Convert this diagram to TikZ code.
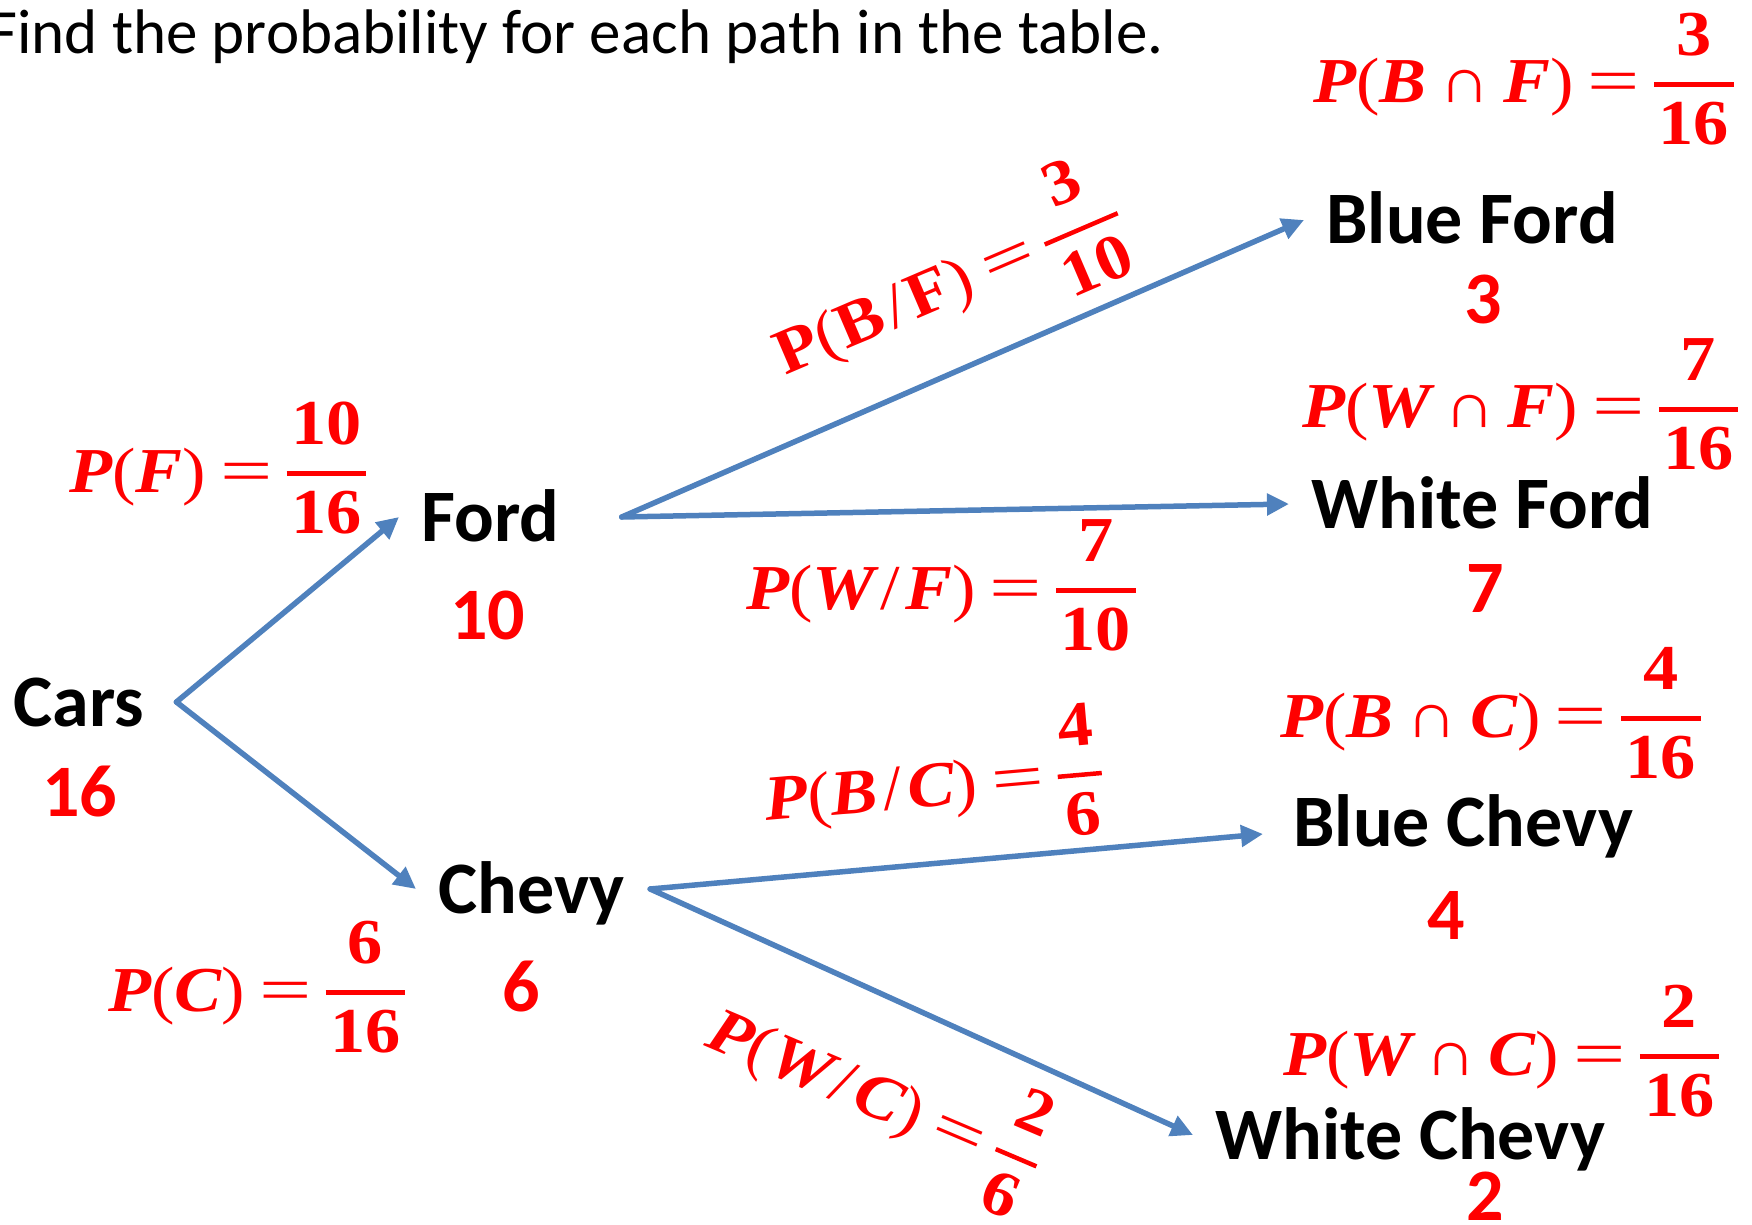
\documentclass[tikz,border=0pt]{standalone}
\usepackage{fontspec}
\setmainfont{Carlito}
\newfontfamily\serif{Liberation Serif}[FakeStretch=1.1]
\newfontfamily\eqfont{Liberation Serif}[FakeStretch=1.45]
\usetikzlibrary{arrows.meta}
\definecolor{arrowblue}{RGB}{79,129,189}
\newcommand\vb[1]{{\serif\bfseries\itshape #1}}
\newcommand\vu[1]{{\serif\bfseries #1}}
\newcommand\op[1]{{\serif #1}}
\newcommand\fr[2]{{\serif\bfseries
  \setbox0=\hbox{#1}\setbox2=\hbox{#2}%
  \dimen0=\wd0 \ifdim\wd2>\dimen0 \dimen0=\wd2 \fi
  \advance\dimen0 by 0.14em
  \dimen2=0.45em \advance\dimen2 by -0.035em
  \dimen4=0.28em \advance\dimen4 by -0.035em
  \dimen6=\ht2 \advance\dimen6 by -0.01em
  \lower\dimen6\vbox{\hbox to\dimen0{\hss\box0\hss}\kern\dimen2\hrule height 0.07em\kern\dimen4\hbox to\dimen0{\hss\box2\hss}}}}
\newcommand\eqn[3]{#1\hspace{0.22em}{\eqfont =}\hspace{0.22em}\fr{#2}{#3}}
\newcommand\IN{\hspace{0.2em}\op{∩}\hspace{0.2em}}
\newcommand\SL{\hspace{0.08em}\op{/}\hspace{0.08em}}
\tikzset{
  carname/.style={font=\fontsize{37}{44}\selectfont\bfseries, inner sep=0pt, text height=24pt, text depth=0pt, anchor=base west},
  cnt/.style={carname, text=red},
  prob/.style={font=\fontsize{32}{38}\selectfont, text=red, inner sep=0pt, anchor=base west},
  arr/.style={draw=arrowblue, line width=2.75pt, line cap=round, -{Triangle[length=11pt,width=10.5pt]}},
}
\begin{document}
\begin{tikzpicture}[x=0.5pt,y=-0.5pt]
\useasboundingbox (0,0) rectangle (1752,1225);
% title
\node[font=\fontsize{31.5}{38}\selectfont, inner sep=0pt, anchor=base west] (title) at (-12,54) {Find the probability for each path in the table.};
% tree nodes
\node[carname] (cars) at (13,726) {Cars};
\node[cnt] (n16) at (42,816) {16};
\node[carname] (ford) at (421,541) {Ford};
\node[cnt] (n10) at (450,639) {10};
\node[carname] (chevy) at (438,913) {Chevy};
\node[cnt] (n6) at (502,1011) {6};
\node[carname] (bford) at (1326,244) {Blue Ford};
\node[cnt] (n3) at (1464,324) {3};
\node[carname] (wford) at (1311,528) {White Ford};
\node[cnt] (n7) at (1466,612) {7};
\node[carname] (bchevy) at (1293,846) {Blue Chevy};
\node[cnt] (n4) at (1427,939) {4};
\node[carname] (wchevy) at (1215,1159) {White Chevy};
\node[cnt] (n2) at (1466,1220) {2};
% arrows
\draw[arr] ([xshift=16pt]cars.east) -- ([xshift=-11pt]ford.west);
\draw[arr] ([xshift=16pt]cars.east) -- ([xshift=-11pt]chevy.west);
\draw[arr] ([xshift=31pt]ford.east) -- ([xshift=-11pt]bford.west);
\draw[arr] ([xshift=31pt]ford.east) -- ([xshift=-11pt]wford.west);
\draw[arr] ([xshift=12.5pt]chevy.east) -- ([xshift=-15pt,yshift=-6pt]bchevy.west);
\draw[arr] ([xshift=12.5pt]chevy.east) -- ([xshift=-11pt]wchevy.west);
% probabilities
\node[prob] (pF) at (69,492) {\eqn{\vb{P}\op{(}\vb{F}\op{)}}{10}{16}};
\node[prob] (pC) at (108,1011) {\eqn{\vb{P}\op{(}\vb{C}\op{)}}{6}{16}};
\node[prob, rotate=23.2] (pBgF) at (785,376) {\eqn{\vu{P}\op{(}\vu{B}\SL\vu{F}\op{)}}{3}{10}};
\node[prob] (pWgF) at (746,609) {\eqn{\vb{P}\op{(}\vb{W}\SL\vb{F}\op{)}}{7}{10}};
\node[prob, rotate=5] (pBgC) at (766,821) {\eqn{\vb{P}\op{(}\vb{B}\SL\vb{C}\op{)}}{4}{6}};
\node[prob, rotate=-23] (pWgC) at (703,1045) {\eqn{\vb{P}\op{(}\vb{W}\SL\vb{C}\op{)}}{2}{6}};
\node[prob] (pBF) at (1313,103) {\eqn{\vb{P}\op{(}\vb{B}\IN\vb{F}\op{)}}{3}{16}};
\node[prob] (pWF) at (1302,428) {\eqn{\vb{P}\op{(}\vb{W}\IN\vb{F}\op{)}}{7}{16}};
\node[prob] (pBC) at (1280,737) {\eqn{\vb{P}\op{(}\vb{B}\IN\vb{C}\op{)}}{4}{16}};
\node[prob] (pWC) at (1283,1075) {\eqn{\vb{P}\op{(}\vb{W}\IN\vb{C}\op{)}}{2}{16}};
\end{tikzpicture}
\end{document}
